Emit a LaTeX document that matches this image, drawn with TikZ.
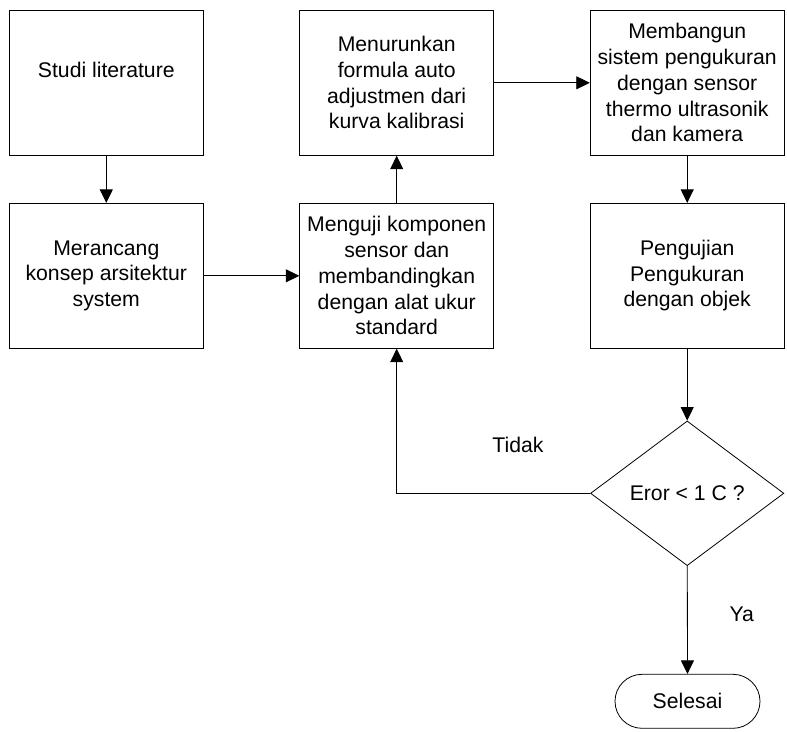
\documentclass[tikz,border=0pt]{standalone}
\usepackage{fontspec}
\setmainfont{Liberation Sans}
\usetikzlibrary{shapes.geometric,arrows.meta}
\begin{document}
\begin{tikzpicture}[x=1pt,y=-1pt,
  every node/.style={font=\fontsize{21.2}{25.7}\selectfont},
  box/.style={draw, line width=0.8pt, minimum width=194pt, minimum height=145pt, inner sep=0pt, align=center},
  arr/.style={line width=0.8pt, -{Triangle[length=13.5pt,width=13pt]}},
  lbl/.style={inner sep=0pt}]
\useasboundingbox (0,0) rectangle (787,731);
\node[box] (b1) at (106.3,82.8) {Studi literature\\~};
\node[box] (b2) at (106.3,275.8) {Merancang\\konsep arsitektur\\system};
\node[box] (b3) at (396.7,275.8) {Menguji komponen\\sensor dan\\membandingkan\\dengan alat ukur\\standard};
\node[box] (b4) at (396.7,82.8) {Menurunkan\\formula auto\\adjustmen dari\\kurva kalibrasi};
\node[box] (b5) at (687.2,82.8) {Membangun\\sistem pengukuran\\dengan sensor\\thermo ultrasonik\\dan kamera};
\node[box] (b6) at (687.2,275.8) {Pengujian\\Pengukuran\\dengan objek};
\node[draw, line width=0.8pt, shape=diamond, inner sep=0pt, minimum width=193.3pt, minimum height=144.7pt] (d) at (687.2,493.3) {Eror < 1 C ?};
\node[draw, line width=0.8pt, rounded corners=27pt, minimum width=145pt, minimum height=54pt, inner sep=0pt] (end) at (687.5,701.3) {Selesai};
\node[lbl] (tidak) at (518,445) {Tidak};
\node[lbl] (ya) at (741.7,614) {Ya};
\draw[arr] (b1) -- (b2);
\draw[arr] (b2) -- (b3);
\draw[arr] (b3) -- (b4);
\draw[arr] (b4) -- (b5);
\draw[arr] (b5) -- (b6);
\draw[arr] (b6) -- (d);
\draw[arr] (d) -- (end);
\draw[arr] (d.west) -| (b3.south);
\end{tikzpicture}
\end{document}
